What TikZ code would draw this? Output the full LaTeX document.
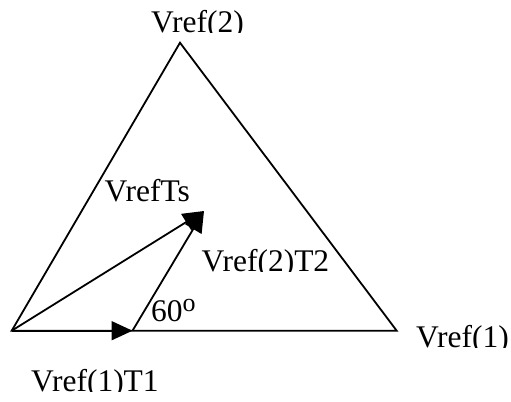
\documentclass[tikz,border=0pt]{standalone}
\usepackage{fontspec}
\setmainfont{Liberation Serif}
\usetikzlibrary{arrows.meta}
\begin{document}
\begin{tikzpicture}[x=1bp,y=-1bp,
  edge/.style={line width=1.8bp, line join=miter},
  vec/.style={line width=1.8bp, -{Triangle[length=21bp,width=19bp]}},
  lbl/.style={inner sep=0pt, anchor=base west, font=\fontsize{31.5bp}{34bp}\selectfont}]
\useasboundingbox (0,0) rectangle (511,401);
\coordinate (L) at (11.7,330.7);
\coordinate (T) at (180,42.7);
\coordinate (R) at (396.7,330.7);
\coordinate (M) at (132.5,330.7);
\coordinate (P) at (204,211);
\draw[edge] (L) -- (T) -- (R) -- cycle;
\draw[vec] (L) -- (M);
\draw[vec] (M) -- (P);
\draw[vec] (L) -- (P);
% labels, clipped at their baselines as in the reference
\begin{scope}\clip (140,0) rectangle (260,32.5);
\node[lbl] (v2) at (151,32) {Vref(2)};\end{scope}
\begin{scope}\clip (95,170) rectangle (200,201.5);
\node[lbl] (vts) at (104.5,201) {VrefTs};\end{scope}
\begin{scope}\clip (195,240) rectangle (340,271.5);
\node[lbl] (v2t2) at (201.5,271) {Vref(2)T2};\end{scope}
\node[lbl] (ang) at (151,321) {60{\fontsize{26bp}{26bp}\selectfont\raisebox{10bp}{o}}};
\begin{scope}\clip (405,315) rectangle (511,347.5);
\node[lbl] (v1) at (416,347) {Vref(1)};\end{scope}
\begin{scope}\clip (20,360) rectangle (170,391.5);
\node[lbl] (v1t1) at (31,391) {Vref(1)T1};\end{scope}
\end{tikzpicture}
\end{document}
